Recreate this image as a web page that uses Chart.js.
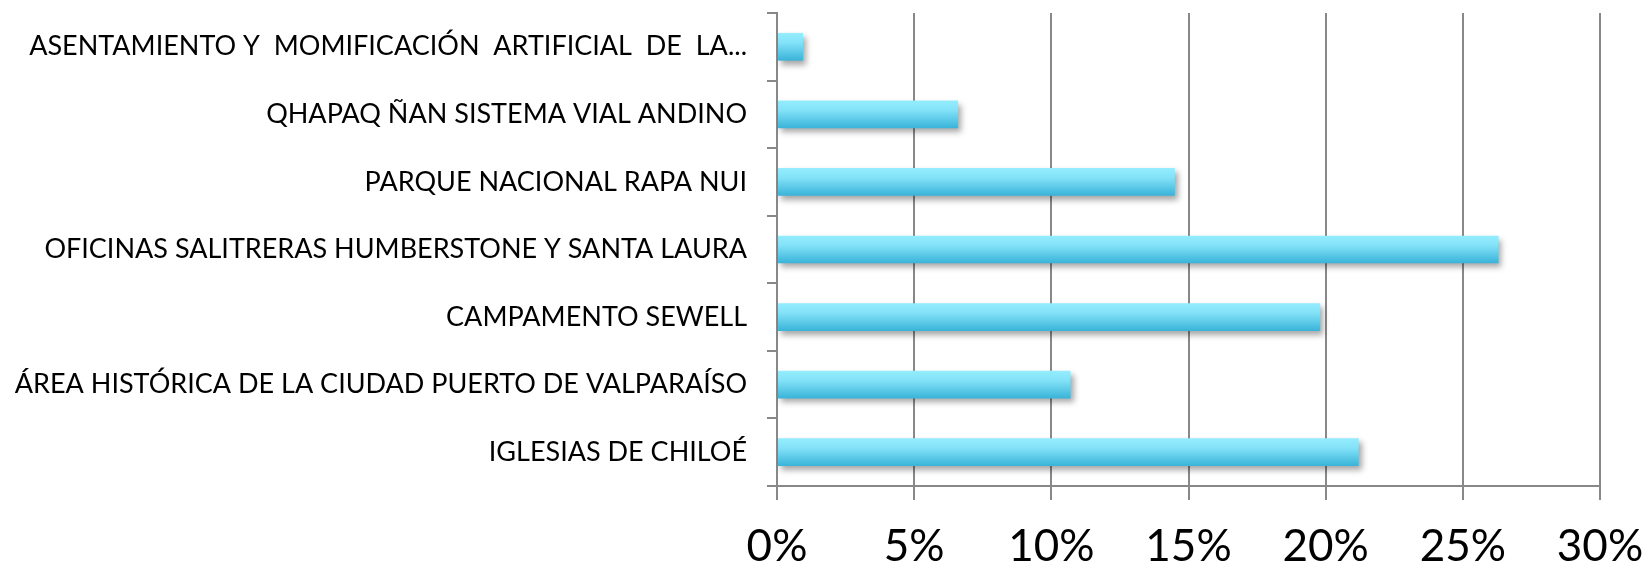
<!DOCTYPE html>
<html>
<head>
<meta charset="utf-8">
<script src="https://cdn.jsdelivr.net/npm/chart.js@4"></script>
<style>
    html, body { margin: 0; padding: 0; background: #ffffff; }
    #wrap { width: 1645px; height: 565px; }
</style>
</head>
<body>
<div id="wrap"><canvas id="sitesChart"></canvas></div>
<script>

// chart data
var siteLabels = [
    "ASENTAMIENTO Y  MOMIFICACIÓN  ARTIFICIAL  DE  LA...",
    "QHAPAQ ÑAN SISTEMA VIAL ANDINO",
    "PARQUE NACIONAL RAPA NUI",
    "OFICINAS SALITRERAS HUMBERSTONE Y SANTA LAURA",
    "CAMPAMENTO SEWELL",
    "ÁREA HISTÓRICA DE LA CIUDAD PUERTO DE VALPARAÍSO",
    "IGLESIAS DE CHILOÉ"
];
var sitePercent = [0.95, 6.6, 14.5, 26.3, 19.8, 10.7, 21.2];
var axisTicks = [0, 5, 10, 15, 20, 25, 30];

var BAR_PCT = 0.41;
var LINE_GREY = "#888888";
var FONT = "Lato, 'Open Sans', sans-serif";


// bar shadow
var shadowPlugin = {
    id: "barShadow",
    beforeDatasetsDraw: function (chart) {
        var ctx = chart.ctx;
        ctx.save();
        ctx.shadowColor = "rgba(0,0,0,0.35)";
        ctx.shadowBlur = 6;
        ctx.shadowOffsetX = 3;
        ctx.shadowOffsetY = 4;
    },
    afterDatasetsDraw: function (chart) {
        chart.ctx.restore();
    }
};


function barGradient(c) {
    var chart = c.chart;
    var area = chart.chartArea;
    if (!area || c.dataIndex === undefined) {
        return "#5fcfee";
    }
    var yc = chart.scales.y.getPixelForValue(c.dataIndex);
    var h = (area.bottom - area.top) / siteLabels.length * BAR_PCT;
    var g = chart.ctx.createLinearGradient(0, yc - h / 2, 0, yc + h / 2);
    g.addColorStop(0, "#95edfe");
    g.addColorStop(0.35, "#83e2f8");
    g.addColorStop(1, "#38b3d8");
    return g;
}


new Chart(
    document.getElementById("sitesChart"),
    {
        type: "bar",

        data: {
            labels: siteLabels,
            datasets: [{
                data: sitePercent,
                backgroundColor: barGradient,
                borderWidth: 0,
                categoryPercentage: 1,
                barPercentage: BAR_PCT
            }]
        },

        options: {
            indexAxis: "y",
            responsive: true,
            maintainAspectRatio: false,
            animation: false,

            layout: {
                padding: { top: 13, right: 45, left: 0, bottom: 0 }
            },

            plugins: {
                legend: { display: false },
                tooltip: { enabled: false }
            },

            scales: {
                x: {
                    min: axisTicks[0],
                    max: axisTicks[axisTicks.length - 1],
                    afterBuildTicks: function (scale) {
                        scale.ticks = axisTicks.map(function (v) { return { value: v }; });
                    },
                    afterFit: function (scale) {
                        scale.height = 79;
                        scale.paddingLeft = 0;
                        scale.paddingRight = 0;
                    },
                    grid: {
                        color: LINE_GREY,
                        lineWidth: 2,
                        tickLength: 14
                    },
                    border: { color: LINE_GREY, width: 2 },
                    ticks: {
                        padding: 20,
                        color: "#000000",
                        maxRotation: 0,
                        font: { family: FONT, size: 44 },
                        callback: function (v) { return v + "%"; }
                    }
                },
                y: {
                    afterFit: function (scale) {
                        scale.width = 777;
                        scale.paddingTop = 0;
                        scale.paddingBottom = 0;
                    },
                    grid: {
                        offset: true,
                        drawOnChartArea: false,
                        color: LINE_GREY,
                        lineWidth: 2,
                        tickLength: 10
                    },
                    border: { color: LINE_GREY, width: 2 },
                    ticks: {
                        padding: 20,
                        color: "#000000",
                        autoSkip: false,
                        font: { family: FONT, size: 27 }
                    }
                }
            }
        },

        plugins: [shadowPlugin]
    }
);

</script>
</body>
</html>
